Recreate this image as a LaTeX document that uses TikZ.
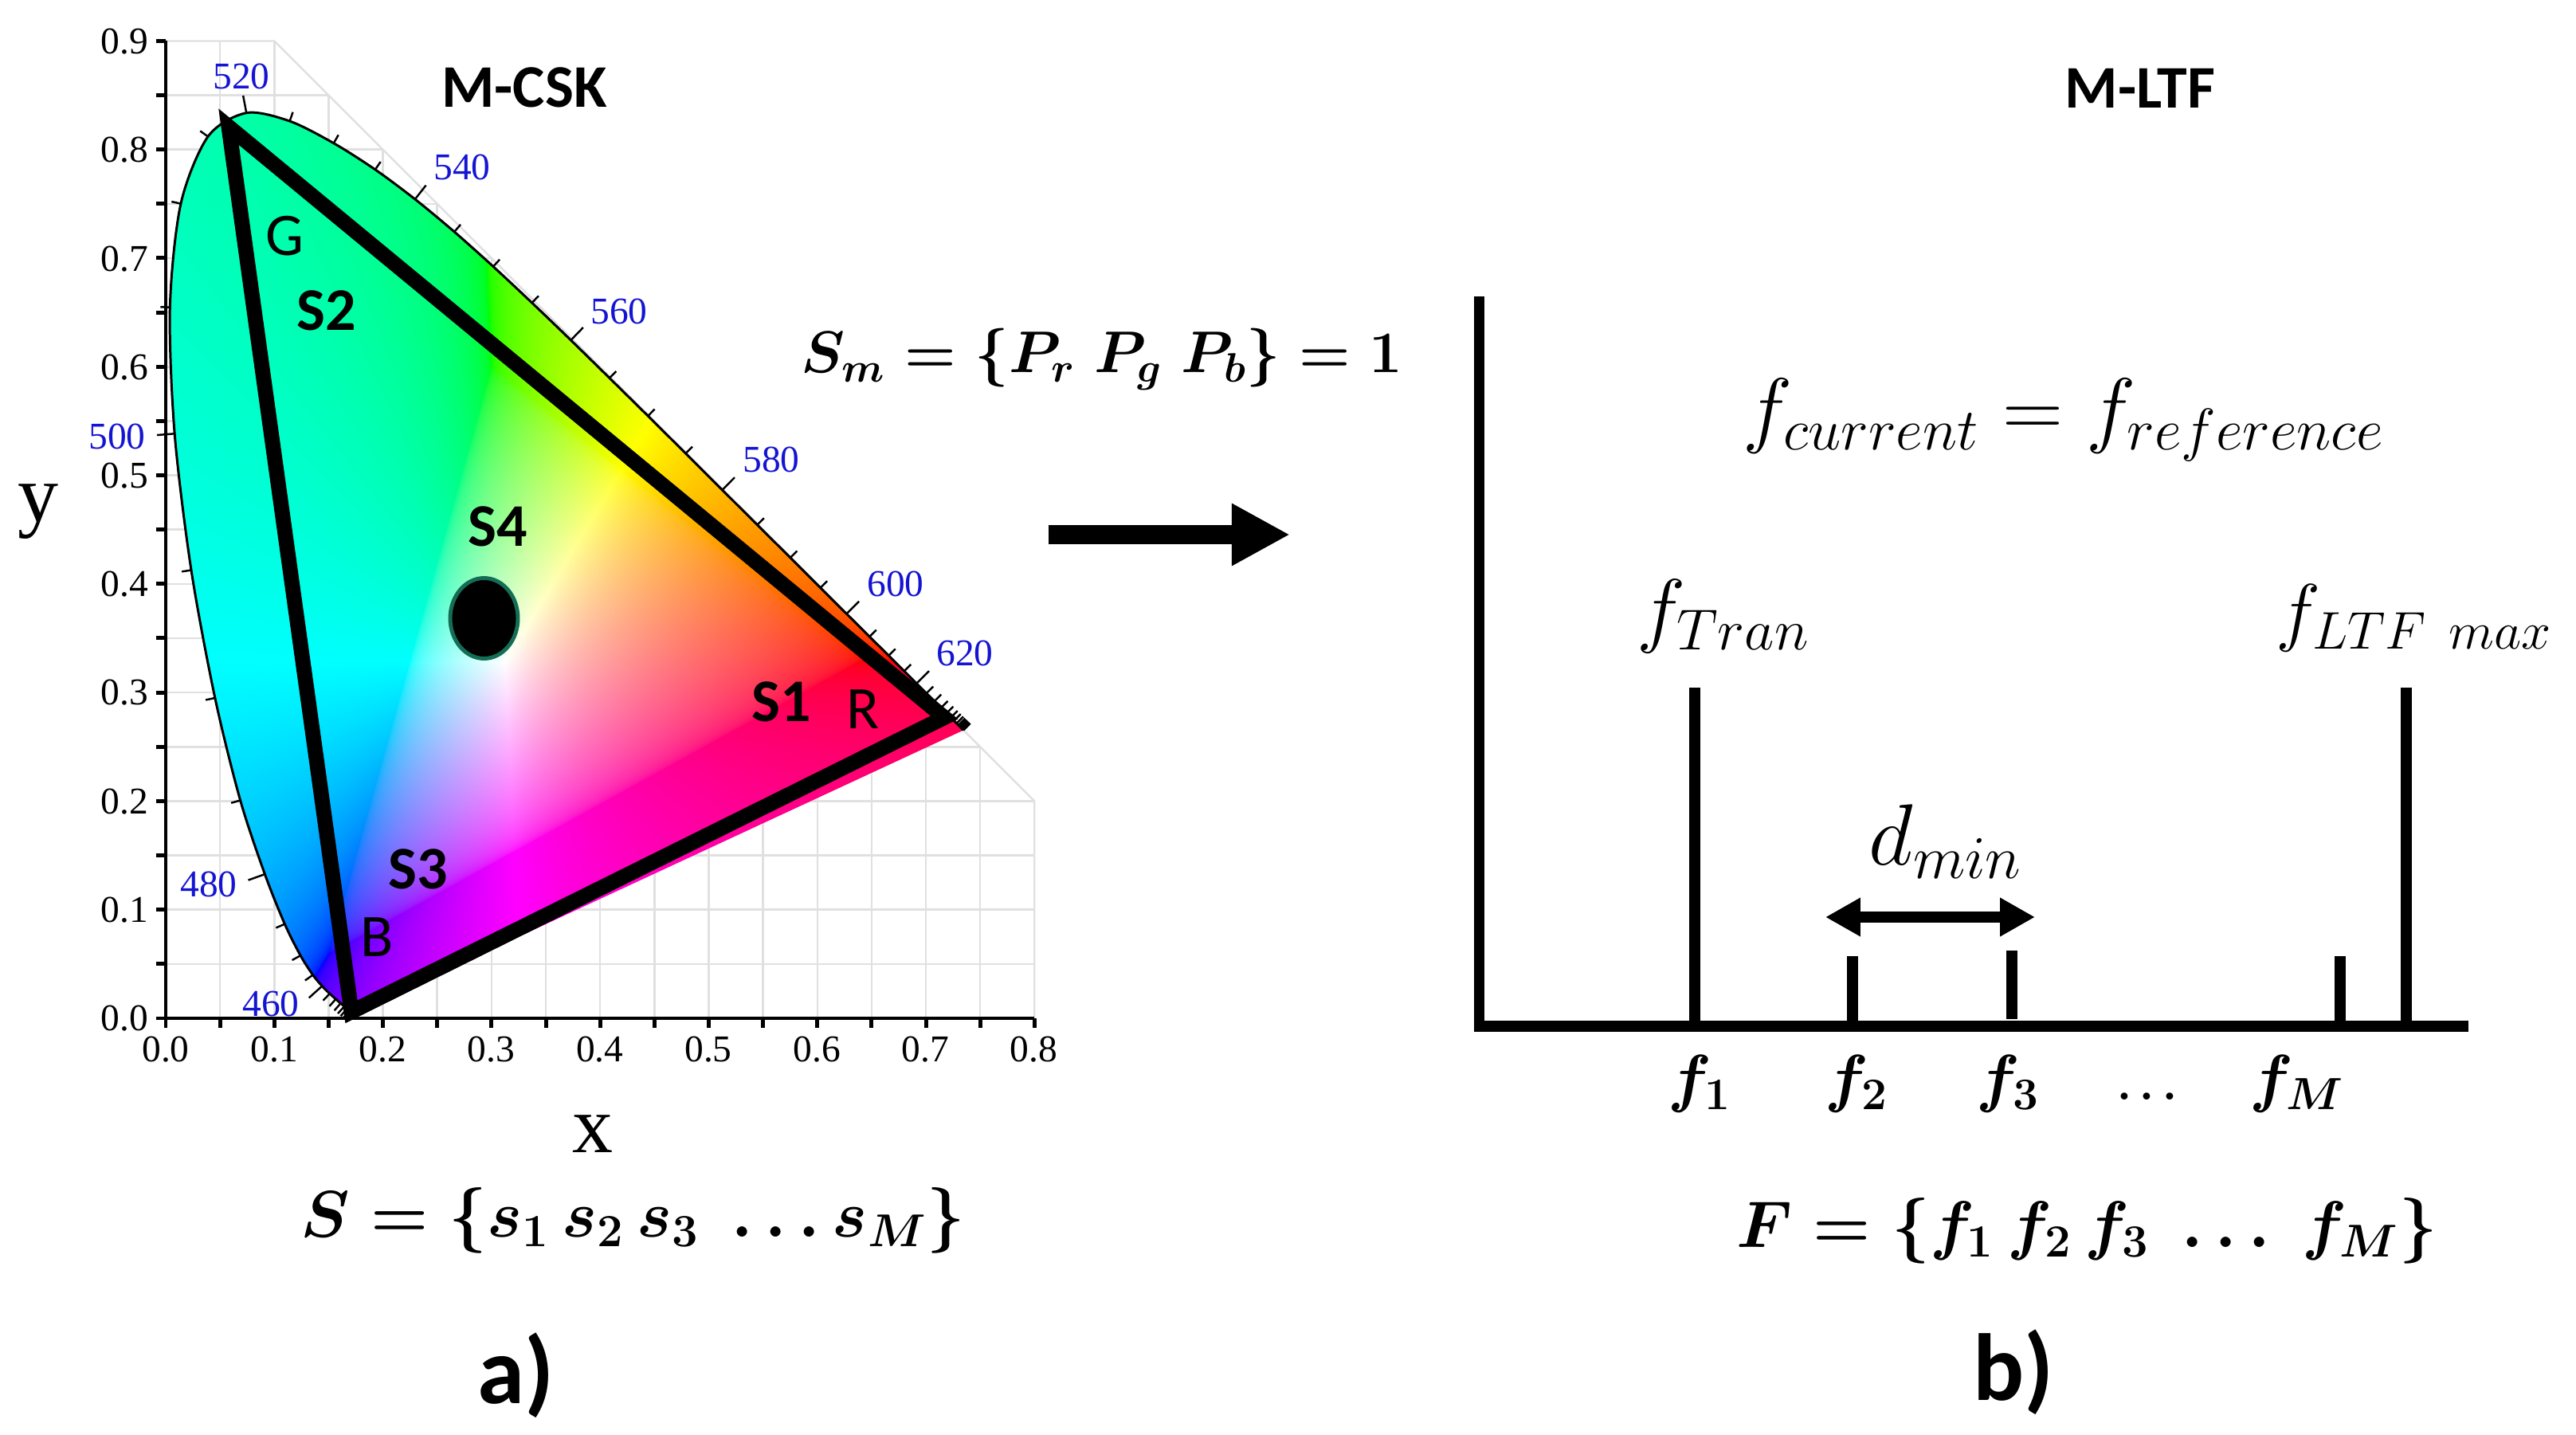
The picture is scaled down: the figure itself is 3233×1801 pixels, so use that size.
\RequirePackage{fix-cm}
\documentclass[tikz,border=0pt]{standalone}
\usepackage{fontspec}
\usetikzlibrary{arrows.meta,calc}
\newfontfamily\calfont{Carlito}
\newfontfamily\tnr{Liberation Serif}
\definecolor{wl}{RGB}{20,20,210}
\definecolor{gridc}{RGB}{224,224,224}
\definecolor{dotedge}{RGB}{20,110,85}

\pgfdeclarefunctionalshading{cie}{\pgfpoint{0bp}{0bp}}{\pgfpoint{100bp}{100bp}}{}{
 25 sub 0.018 mul exch 25 sub 0.016 mul exch
 2 copy add 1 exch sub
 2 index 3.2406 mul 2 index -1.5372 mul add 1 index -0.4986 mul add
 3 index -0.9689 mul 3 index 1.8758 mul add 2 index 0.0415 mul add
 4 index 0.0557 mul 4 index -0.2040 mul add 3 index 1.0570 mul add
 6 3 roll pop pop pop
 3 copy 2 copy gt {exch} if pop 2 copy gt {exch} if pop 0 2 copy gt {exch} if pop
 3 index 1 index sub 3 index 2 index sub 3 index 3 index sub
 7 3 roll pop pop pop pop
 3 copy 2 copy lt {exch} if pop 2 copy lt {exch} if pop 0.0001 add
 exch 1 index div 3 1 roll
 exch 1 index div 3 1 roll
 4 -1 roll exch div 3 1 roll
 0.4545 exp 3 1 roll 0.4545 exp 3 1 roll 0.4545 exp 3 1 roll
}

\newcommand\locuscurve{plot[smooth,tension=0.5] coordinates {(0.1741,0.0050) (0.1714,0.0051) (0.1689,0.0069) (0.1644,0.0109) (0.1566,0.0177) (0.1510,0.0227) (0.1440,0.0297) (0.1355,0.0399) (0.1241,0.0578) (0.1096,0.0868) (0.0913,0.1327) (0.0687,0.2007) (0.0454,0.2950) (0.0235,0.4127) (0.0082,0.5384) (0.0039,0.6548) (0.0139,0.7502) (0.0389,0.8120) (0.0743,0.8338) (0.1142,0.8262) (0.1547,0.8059) (0.1929,0.7816) (0.2296,0.7543) (0.2658,0.7243) (0.3016,0.6923) (0.3373,0.6589) (0.3731,0.6245) (0.4087,0.5896) (0.4441,0.5547) (0.4788,0.5202) (0.5125,0.4866) (0.5448,0.4544) (0.5752,0.4242) (0.6029,0.3965) (0.6270,0.3725) (0.6482,0.3514) (0.6658,0.3340) (0.6801,0.3197) (0.6915,0.3083) (0.7079,0.2920) (0.7190,0.2809) (0.7260,0.2740) (0.7300,0.2700) (0.7334,0.2666) (0.7347,0.2653)}}

\tikzset{
 gridline/.style={draw=gridc, line width=0.7pt},
 axisline/.style={line width=1.42pt},
 wtick/.style={line width=0.7pt},
 locusline/.style={line width=0.85pt},
 tri/.style={line width=5.4pt, line join=miter},
 dot/.style={fill=black, draw=dotedge, line width=1.4pt},
 tnrlab/.style={font={\tnr\fontsize{13.5}{15}\selectfont}, inner sep=0pt},
 wllab/.style={tnrlab, text=wl},
 axlab/.style={font={\tnr\fontsize{29}{32}\selectfont}, inner sep=0pt},
 cklab/.style={font={\calfont\fontsize{21.6}{24}\selectfont}, inner sep=0pt},
 ckbold/.style={font={\calfont\bfseries\fontsize{21.6}{24}\selectfont}, inner sep=0pt},
 panlab/.style={font={\calfont\bfseries\fontsize{34}{38}\selectfont}, inner sep=0pt},
 mathreg/.style={font={\fontsize{#1}{30}\selectfont}, inner sep=0pt, anchor=base},
 mathbold/.style={font={\fontsize{#1}{30}\selectfont\boldmath}, inner sep=0pt, anchor=base},
 rline/.style={line width=3.7pt, line join=miter},
 spike/.style={line width=4pt},
}

\begin{document}
\begin{tikzpicture}[x=0.01cm,y=-0.01cm]
\useasboundingbox (0,0) rectangle (3233,1801);

% ---------------- chromaticity chart ----------------
\begin{scope}[shift={(208,1278)},x=13.62cm,y=13.62cm]
 \begin{scope}
  \clip (0,0) -- (0,0.9) -- (0.1,0.9) -- (0.8,0.2) -- (0.8,0) -- cycle;
  \draw[gridline] (0,0) grid[step={(0.05,0.05)}] (0.8,0.9);
 \end{scope}
 \draw[gridline] (0,0.9) -- (0.1,0.9) -- (0.8,0.2) -- (0.8,0);
 \begin{scope}
  \clip \locuscurve -- cycle;
  \shade[shading=cie] (0,0) rectangle (0.8,0.9);
 \end{scope}
 \draw[locusline] \locuscurve;
 \foreach \x/\y/\dx/\dy/\L in {
  0.1689/0.0069/-0.0034/0.0028/3.4pt, 0.1669/0.0086/-0.0045/0.0040/3.4pt,
  0.1644/0.0109/-0.0058/0.0052/3.4pt, 0.1611/0.0138/-0.0078/0.0068/3.4pt,
  0.1566/0.0177/-0.0101/0.0089/3.4pt, 0.1510/0.0227/-0.0126/0.0120/3.4pt,
  0.1440/0.0297/-0.0155/0.0172/6.3pt, 0.1355/0.0399/-0.0199/0.0281/3.4pt,
  0.1241/0.0578/-0.0259/0.0469/3.4pt, 0.1096/0.0868/-0.0328/0.0749/3.4pt,
  0.0913/0.1327/-0.0409/0.1139/6.3pt, 0.0687/0.2007/-0.0459/0.1623/3.4pt,
  0.0454/0.2950/-0.0452/0.2120/3.4pt, 0.0235/0.4127/-0.0372/0.2434/3.4pt,
  0.0082/0.5384/-0.0196/0.2421/6.3pt, 0.0039/0.6548/0.0057/0.2118/3.4pt,
  0.0139/0.7502/0.0350/0.1572/3.4pt, 0.0389/0.8120/0.0604/0.0836/3.4pt,
  0.0743/0.8338/0.0753/0.0142/6.3pt, 0.1142/0.8262/0.0804/-0.0279/3.4pt,
  0.1547/0.8059/0.0787/-0.0446/3.4pt, 0.1929/0.7816/0.0749/-0.0516/3.4pt,
  0.2296/0.7543/0.0729/-0.0573/6.3pt, 0.2658/0.7243/0.0720/-0.0620/3.4pt,
  0.3016/0.6923/0.0715/-0.0654/3.4pt, 0.3373/0.6589/0.0715/-0.0678/3.4pt,
  0.3731/0.6245/0.0714/-0.0693/6.3pt, 0.4087/0.5896/0.0710/-0.0698/3.4pt,
  0.4441/0.5547/0.0701/-0.0694/3.4pt, 0.4788/0.5202/0.0684/-0.0681/3.4pt,
  0.5125/0.4866/0.0660/-0.0658/6.3pt, 0.5448/0.4544/1/-1/3.4pt,
  0.5752/0.4242/1/-1/3.4pt, 0.6029/0.3965/1/-1/3.4pt,
  0.6270/0.3725/1/-1/6.3pt, 0.6482/0.3514/1/-1/3.4pt,
  0.6658/0.3340/1/-1/3.4pt, 0.6801/0.3197/1/-1/3.4pt,
  0.6915/0.3083/1/-1/6.3pt, 0.7006/0.2993/1/-1/3.4pt,
  0.7079/0.2920/1/-1/3.4pt, 0.7140/0.2859/1/-1/3.4pt,
  0.7190/0.2809/1/-1/3.4pt, 0.7230/0.2770/1/-1/3.4pt,
  0.7260/0.2740/1/-1/3.4pt, 0.7283/0.2717/1/-1/3.4pt,
  0.7300/0.2700/1/-1/3.4pt, 0.7311/0.2689/1/-1/3.4pt,
  0.7320/0.2680/1/-1/3.4pt, 0.7327/0.2673/1/-1/3.4pt,
  0.7334/0.2666/1/-1/3.4pt, 0.7340/0.2660/1/-1/3.4pt,
  0.7344/0.2656/1/-1/3.4pt, 0.7347/0.2653/1/-1/3.4pt}
  \draw[wtick] (\x,\y) -- ++({atan2(\dy,\dx)+90}:\L);
 % triangle
 \coordinate (G) at (0.058,0.821);
 \coordinate (B) at (0.171,0.006);
 \coordinate (R) at (0.717,0.277);
 \draw[tri] (G) -- (B) -- (R) -- cycle;
 % axes
 \draw[axisline] (0,0.9) -- (0,0) -- (0.8,0);
 \foreach \v in {0,0.05,...,0.91} \draw[axisline] (0,\v) -- ++(-3.4pt,0);
 \foreach \v in {0,0.05,...,0.81} \draw[axisline] (\v,0) -- ++(0,-3.4pt);
\end{scope}

% dot
\draw[dot] (607.5,776) ellipse [x radius=42.5, y radius=50.5];

% tick labels
\foreach \i in {0,...,9} \node[tnrlab, anchor=east] (yt\i) at (187,{1278-136.2*\i}) {0.\i};
\foreach \i in {0,...,8} \node[tnrlab, anchor=north] (xt\i) at ({208+136.2*\i},1300) {0.\i};

% wavelength labels
\node[wllab] (w460) at (340,1260) {460};
\node[wllab] (w480) at (262,1110) {480};
\node[wllab] (w500) at (147,548) {500};
\node[wllab] (w520) at (303,96) {520};
\node[wllab] (w540) at (580,210) {540};
\node[wllab] (w560) at (777,391) {560};
\node[wllab] (w580) at (968,577) {580};
\node[wllab] (w600) at (1124,733) {600};
\node[wllab] (w620) at (1211,820) {620};

% axis labels
\node[axlab, anchor=base] (ylab) at (48,655) {y};
\node[axlab, anchor=base] (xlab) at (744,1446) {x};

% chart labels
\node[ckbold] (mcsk) at (658,110) {M-CSK};
\node[cklab] (lg) at (357,296) {G};
\node[ckbold] (ls2) at (410,390) {S2};
\node[ckbold] (ls4) at (625,661) {S4};
\node[ckbold] (ls1) at (981,881) {S1};
\node[cklab] (lr) at (1083,890) {R};
\node[ckbold] (ls3) at (525,1091) {S3};
\node[cklab] (lb) at (473,1176) {B};

% formulas left
\node[mathbold=21] (sm) at (1383,468) {$S_m = \{P_r\;P_g\;P_b\} = 1$};
\node[mathbold=23.5] (sset) at (794,1552) {$S = \{s_1\,s_2\,s_3\ \ldots s_M\}$};
\node[panlab] (pa) at (648,1726) {a)};

% big arrow
\coordinate (arrS) at (1316,671);
\coordinate (arrE) at (1619,671);
\draw[line width=6.83pt, -{Triangle[length=20.8pt,width=20.8pt]}] (arrS) -- (arrE);

% ---------------- right panel ----------------
\node[ckbold] (mltf) at (2686,111) {M-LTF};
\draw[rline] (1856,372) -- (1856,1288) -- (3098,1288);
\draw[spike] (2127,863) -- (2127,1284);
\draw[spike] (2325,1200) -- (2325,1284);
\draw[spike] (2525,1193) -- (2525,1279);
\draw[spike] (2937,1200) -- (2937,1284);
\draw[spike] (3020,863) -- (3020,1284);
\coordinate (dL) at (2291,1151);
\coordinate (dR) at (2554,1151);
\draw[line width=4pt, {Triangle[length=12.5pt,width=13pt]}-{Triangle[length=12.5pt,width=13pt]}] (dL) -- (dR);

\node[mathreg=30] (fcr) at (2590,549) {$f_{current} = f_{reference}$};
\node[mathreg=29.5] (ftran) at (2163,800) {$f_{Tran}$};
\node[mathreg=27] (fltf) at (3030,800) {$f_{LTF\ max}$};
\node[mathreg=31] (dmin) at (2442,1086) {$d_{min}$};
\node[mathbold=23] (f1) at (2133,1380) {$f_1$};
\node[mathbold=23] (f2) at (2330,1380) {$f_2$};
\node[mathbold=23] (f3) at (2520,1380) {$f_3$};
\node[mathbold=16] (fd) at (2695,1380) {$\ldots$};
\node[mathbold=23] (fm) at (2883,1380) {$f_M$};
\node[mathbold=23.5] (fset) at (2619,1565) {$F = \{f_1\,f_2\,f_3\ \ldots\ f_M\}$};
\node[panlab] (pb) at (2527,1722) {b)};
\end{tikzpicture}
\end{document}
